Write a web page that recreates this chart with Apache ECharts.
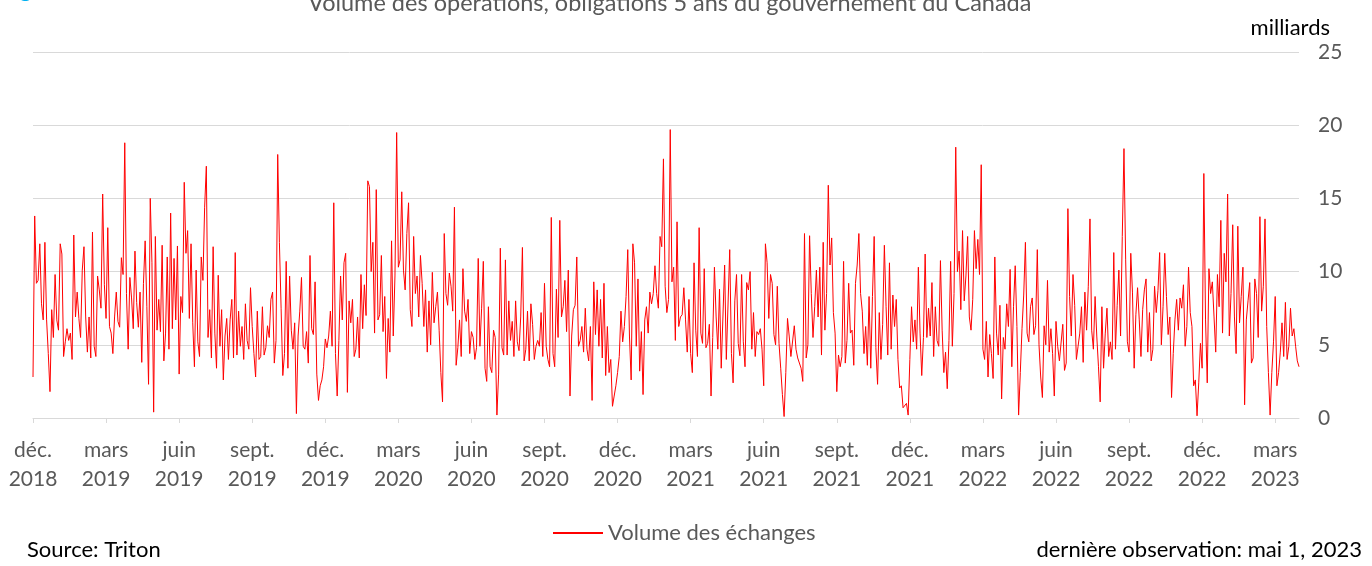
<!DOCTYPE html>
<html>
<head>
<meta charset="utf-8">
<script src="https://cdn.jsdelivr.net/npm/echarts@6/dist/echarts.min.js"></script>
<style>
  html, body { margin: 0; padding: 0; background: #fff; }
  #main { width: 1372px; height: 566px; }
</style>
</head>
<body>
<div id="main"></div>
<script>
// libellés trimestriels de l'axe horizontal
var quarterLabels = ['déc.\n2018', 'mars\n2019', 'juin\n2019', 'sept.\n2019', 'déc.\n2019',
  'mars\n2020', 'juin\n2020', 'sept.\n2020', 'déc.\n2020', 'mars\n2021', 'juin\n2021',
  'sept.\n2021', 'déc.\n2021', 'mars\n2022', 'juin\n2022', 'sept.\n2022', 'déc.\n2022', 'mars\n2023'];
var perQuarter = 43; // observations par trimestre sur l'axe

// volume des échanges, milliards
var volume = [
  2.8, 13.8, 9.2, 9.4, 11.9, 7.8, 6.7, 12.0, 6.7, 4.4, 1.8, 7.4, 5.5, 9.8, 6.7, 6.0, 11.9, 11.2, 4.2, 5.2,
  6.1, 5.3, 5.8, 4.0, 12.5, 6.9, 8.6, 6.8, 5.5, 10.1, 11.7, 6.9, 4.5, 6.9, 4.1, 12.7, 4.9, 4.2, 9.7, 8.75,
  7.5, 15.3, 9.1, 6.8, 13.0, 6.25, 5.8, 4.4, 6.9, 8.6, 6.6, 6.2, 10.95, 9.8, 18.8, 8.5, 4.7, 9.6, 8.2, 6.1,
  11.4, 7.9, 6.2, 8.6, 3.8, 9.2, 12.1, 7.6, 2.3,
  15.0, 10.6, 0.4, 12.4, 6.0, 8.1, 5.9, 11.8, 3.9, 5.8, 11.0, 4.7, 14.0, 6.1, 10.9, 6.7, 11.75, 3.0, 8.3, 7.2,
  16.1, 11.25, 12.8, 6.8, 11.9, 6.5, 3.5, 10.1, 5.2, 4.2, 11.0, 9.4, 14.4, 17.2, 5.5, 7.4, 4.1, 11.7, 5.8,
  3.4, 9.75, 4.9, 7.4, 2.6, 5.6, 6.8, 4.0, 6.7, 8.1, 4.1, 11.3, 4.3, 7.3, 4.9, 6.25, 4.0, 7.8, 5.3,
  4.7, 8.9, 6.25, 4.4, 2.8, 7.3, 4.0, 4.2, 7.6, 4.3, 4.8, 6.3, 5.5, 8.1, 8.6, 3.75, 5.3, 18.0,
  12.0, 7.5, 2.9, 4.4, 10.7, 3.4, 9.7, 6.0, 4.7, 6.5, 0.3, 5.6, 7.3, 9.6, 4.9, 4.7, 5.9, 3.75, 11.1,
  6.1, 5.7, 9.3, 3.0, 1.2, 2.2, 2.6, 3.5, 5.4, 4.8, 5.6, 7.3, 4.9, 14.7, 4.4, 1.5, 5.3, 9.7,
  6.7, 10.6, 11.25, 1.75, 8.0, 6.5, 8.1, 4.2, 4.7, 6.9, 4.1, 9.8, 6.1, 9.1, 7.0, 16.2, 15.8, 10.0,
  12.0, 5.8, 15.6, 6.7, 7.05, 11.1, 5.9, 8.3, 2.7, 6.8, 4.5, 12.1, 5.6, 9.7, 19.5, 10.3, 10.8, 15.45, 10.1,
  8.75, 12.6, 14.7,
  7.4, 6.25, 12.4, 8.5, 9.7, 6.9, 11.1, 9.2, 6.25, 8.75, 4.5, 8.0, 5.0, 9.95, 6.5, 7.6, 8.6, 6.0, 3.1, 1.1,
  12.6, 8.5, 7.7, 9.9, 9.0, 7.3, 14.4, 3.6, 4.8, 6.7, 4.2, 10.2, 7.3, 6.6, 8.1, 4.4, 5.9, 5.5, 4.0,
  4.8, 10.9, 4.9, 7.5, 10.7, 3.4, 2.5, 7.6, 3.5, 3.1, 6.0, 5.5, 0.2, 3.0, 11.6, 4.8, 4.3, 10.8, 4.3,
  8.0, 5.3, 6.6, 4.2, 8.0, 5.2, 4.6, 6.9, 11.65, 3.9, 4.7, 7.3, 3.9, 7.8, 6.4, 4.0, 4.9, 5.3,
  4.9, 7.2, 4.2, 9.2, 4.9, 4.0, 3.5, 13.7, 4.4, 3.5, 8.8, 5.5, 13.5, 6.9, 7.6, 9.4, 5.9, 10.1, 1.5, 5.6,
  7.4, 7.7, 11.0, 4.9, 5.3, 6.25, 4.5, 7.5, 4.7, 3.9, 6.25, 1.2, 9.3, 5.7, 8.75, 4.9, 8.1, 4.1, 9.2, 2.9,
  6.25, 3.1, 4.0, 0.8, 1.5, 2.2, 3.1, 4.2, 7.3, 5.2, 6.25, 8.3, 11.5, 5.6, 2.6, 11.9, 10.6, 4.9, 9.5, 3.2,
  5.9, 1.6, 6.7, 7.6, 5.8, 8.6, 7.8, 8.5, 10.4, 8.5, 7.5, 12.4, 11.7, 17.7, 9.0, 7.2, 8.1,
  19.7, 9.3, 10.3, 5.3, 13.4, 6.25, 6.9, 7.05, 8.9, 6.7, 4.5, 8.1, 4.4, 3.1, 10.6, 6.0, 4.2, 13.0, 5.8,
  5.1, 10.2, 4.8, 5.1, 6.4, 1.5, 5.5, 10.3, 6.9, 4.7, 8.8, 3.4, 3.5, 10.45, 4.0, 4.1, 11.5, 4.4, 2.4, 8.0,
  9.8, 5.1, 4.25, 9.8, 5.2, 3.5, 9.25, 8.75, 10.0, 4.7, 7.2, 4.2, 5.9, 5.7, 6.1, 4.7, 2.2, 11.9, 10.6, 6.8,
  9.8, 9.2, 5.7, 5.0, 9.0, 5.1, 3.4, 1.6, 0.1, 3.1, 6.8, 5.6, 4.2, 4.1, 6.3, 4.7, 4.1,
  4.2, 3.4, 2.5, 12.6, 4.1, 5.0, 12.45, 8.5, 5.5, 7.6, 10.1, 6.9, 10.3, 4.3, 12.0, 6.0, 8.5, 15.9, 10.45, 12.3,
  7.2, 5.8, 1.8, 4.3, 3.5, 4.2, 10.7, 3.75, 5.3, 9.2, 5.8, 6.0, 3.6, 9.2, 10.45, 12.6, 8.5, 7.3,
  4.4, 6.25, 3.6, 8.3, 3.4, 8.3, 12.4, 4.8, 2.3, 7.2, 4.0, 6.4, 11.8, 7.6, 4.3, 10.6, 4.7,
  8.4, 6.25, 8.1, 4.0, 2.05, 2.2, 0.7, 0.8, 1.0, 0.2, 4.0, 7.6, 5.2, 6.7, 4.7, 10.3, 5.8, 2.9, 5.5, 11.2,
  5.5, 7.5,
  5.6, 9.25, 4.2, 7.6, 5.3, 4.9, 10.75, 6.0, 3.1, 4.5, 2.0, 5.3, 10.7, 4.9, 8.5, 18.5,
  10.0, 11.4, 7.4, 12.8, 8.0, 9.7, 12.4, 6.9, 6.0, 8.1, 12.8, 10.2, 12.2, 9.8, 17.3, 4.7, 4.0, 6.6, 2.8,
  5.7, 4.4, 2.7, 11.0, 5.8, 4.3, 7.7, 1.3, 5.5, 4.7, 7.8, 6.25, 10.15, 3.5, 7.6, 10.4,
  6.25, 0.2, 3.1, 6.1, 8.4, 12.0, 5.8, 5.2, 7.6, 8.2, 5.7, 6.3, 11.5, 5.0, 2.8, 1.4, 6.3, 5.0,
  9.4, 4.5, 6.1, 4.4, 1.5, 6.6, 4.9,
  3.9, 4.0, 6.4, 3.25, 3.75, 14.3, 8.3, 5.6, 9.8, 7.7, 4.0, 4.9, 5.8, 7.6, 3.8, 8.6, 6.0,
  9.0, 13.6, 6.0, 4.7, 8.3, 5.6, 3.5, 1.1, 7.6, 3.4, 5.8, 7.5, 4.2, 5.2, 4.0, 11.3,
  4.7, 7.7, 10.1, 5.6, 12.4, 18.4, 10.8, 5.2, 4.5, 11.25, 8.6, 3.4, 7.05, 8.9, 6.7, 4.2, 7.4, 8.75, 9.5,
  4.5, 7.2, 3.9, 4.7, 9.0, 7.2, 8.7, 11.3, 5.0, 7.6, 11.25, 8.3, 5.7, 6.9, 1.4, 4.4, 6.7,
  8.1, 6.0, 8.2, 7.5, 9.1, 4.9, 6.25, 10.3,
  7.2, 6.25, 2.2, 2.6, 0.15, 2.4, 5.1, 3.4, 16.7, 6.7, 2.4, 10.2, 8.5, 9.3, 6.9, 4.5,
  9.8, 7.6, 13.5, 5.8, 11.25, 9.3, 15.3, 5.6, 8.5, 13.2, 6.9, 4.4, 13.1, 6.5, 8.3, 10.3, 0.9, 6.7,
  8.0, 9.25, 3.75, 4.1, 9.5, 8.5, 5.5, 13.75, 7.3, 9.0, 13.6, 6.25, 3.1, 0.2, 3.1, 5.2, 8.3,
  2.2, 3.1, 4.5, 6.5, 4.2, 7.9, 4.0, 4.9, 7.5, 5.6, 6.1, 4.9, 3.9, 3.5
];

var categories = volume.map(function (v, i) { return i; });
var isQuarter = function (i) { return i % perQuarter === 0; };

var chart = echarts.init(document.getElementById('main'));
var font = 'Lato';

var option = {
  animation: false,
  textStyle: { fontFamily: font },
  title: {
    text: 'Volume des opérations, obligations 5 ans du gouvernement du Canada',
    left: 303,
    top: -14,
    textStyle: { fontSize: 23.5, fontWeight: 'normal', color: '#595959', fontFamily: font }
  },
  legend: {
    data: ['Volume des échanges'],
    left: 548,
    top: 517,
    itemWidth: 50,
    itemHeight: 2,
    itemGap: 6,
    icon: 'rect',
    textStyle: { fontSize: 22, color: '#595959', fontFamily: font }
  },
  grid: { left: 33, right: 73, top: 52, bottom: 148 },
  xAxis: {
    type: 'category',
    data: categories,
    boundaryGap: false,
    axisLine: { lineStyle: { color: '#d9d9d9', width: 1 } },
    axisTick: { show: true, length: 5, interval: isQuarter, lineStyle: { color: '#d9d9d9' } },
    axisLabel: {
      interval: isQuarter,
      formatter: function (v, i) { return quarterLabels[i / perQuarter] || ''; },
      color: '#595959',
      fontSize: 21,
      lineHeight: 29,
      margin: 18
    },
    splitLine: { show: false }
  },
  yAxis: {
    type: 'value',
    position: 'right',
    min: 0,
    max: 25,
    interval: 5,
    axisLine: { show: false },
    axisTick: { show: false },
    axisLabel: { color: '#595959', fontSize: 21, margin: 19 },
    splitLine: { lineStyle: { color: '#d9d9d9', width: 1 } }
  },
  series: [{
    name: 'Volume des échanges',
    type: 'line',
    data: volume,
    symbol: 'none',
    showSymbol: false,
    lineStyle: { color: '#ff0000', width: 1 },
    itemStyle: { color: '#ff0000' }
  }],
  graphic: [
    { type: 'text', x: 2, y: 1, style: { text: 'Figure', fontSize: 22, fill: '#00b0f0', fontFamily: font, verticalAlign: 'bottom' } },
    { type: 'text', right: 42, top: 17, style: { text: 'milliards', fontSize: 22, fill: '#000', fontFamily: font } },
    { type: 'text', left: 27, top: 539, style: { text: 'Source: Triton', fontSize: 22, fill: '#000', fontFamily: font } },
    { type: 'text', right: 10, top: 539, style: { text: 'dernière observation: mai 1, 2023', fontSize: 22, fill: '#000', fontFamily: font } }
  ]
};
chart.setOption(option);
</script>
</body>
</html>
